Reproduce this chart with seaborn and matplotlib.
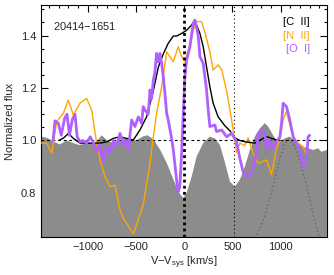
import matplotlib
matplotlib.use("Agg")
import matplotlib.pyplot as plt
import seaborn as sns
from matplotlib.ticker import MultipleLocator, FormatStrFormatter

# atmospheric transmission (grey)
trans_v = [-1485, -1420, -1350, -1290, -1220, -1150, -1090, -1000, -920, -856,
           -800, -740, -670, -600, -500, -430, -380, -320, -250, -180,
           -110, -60, -10, 25, 77, 128, 197, 266, 318, 370,
           420, 474, 525, 577, 629, 681, 733, 784, 836, 871,
           922, 974, 1043, 1095, 1165, 1233, 1285, 1337, 1389, 1424, 1480]
trans_f = [1.015, 1.01, 0.995, 0.985, 1.0, 0.99, 0.983, 0.99, 0.99, 1.02,
           1.0, 0.99, 1.0, 1.008, 1.0, 1.015, 1.02, 1.005, 0.965, 0.913,
           0.85, 0.805, 0.78, 0.80, 0.862, 0.938, 0.99, 1.015, 1.008, 0.983,
           0.92, 0.843, 0.824, 0.85, 0.90, 0.964, 1.015, 1.046, 1.066, 1.053,
           1.02, 0.99, 1.008, 1.015, 0.995, 0.976, 0.97, 0.964, 0.97, 0.957, 0.964]

# [C II]
cii_v = [-1300, -1250, -1200, -1150, -1080, -975, -873, -800, -735, -666,
         -600, -527, -459, -390, -320, -268, -217, -166, -113, -79,
         -27, 25, 77, 100, 128, 163, 197, 232, 266, 300,
         352, 422, 474, 525, 577, 629, 733, 819, 854, 906, 957, 990]
cii_f = [1.0, 1.01, 1.027, 1.008, 0.99, 0.99, 0.99, 0.995, 1.008, 1.014,
         1.008, 1.002, 1.04, 1.09, 1.19, 1.28, 1.33, 1.37, 1.398, 1.398,
         1.408, 1.42, 1.44, 1.453, 1.44, 1.408, 1.357, 1.28, 1.205, 1.142,
         1.09, 1.056, 1.037, 1.01, 1.0, 0.995, 0.99, 1.008, 1.015, 1.008, 1.002, 1.0]

# [N II]
nii_v = [-1485, -1426, -1374, -1322, -1253, -1202, -1150, -1081, -1012, -960,
         -908, -873, -822, -770, -718, -666, -632, -527, -425, -355,
         -320, -286, -234, -182, -113, -62, -27, 7, 59, 93,
         128, 180, 214, 266, 300, 352, 388, 440, 491, 525,
         543, 577, 629, 663, 716, 768, 854, 906, 957, 992,
         1026, 1061, 1095, 1130, 1165, 1233, 1268]
nii_f = [0.99, 0.99, 0.951, 1.072, 1.104, 1.154, 1.097, 1.142, 1.16, 1.116,
         0.99, 0.926, 0.862, 0.824, 0.83, 0.735, 0.704, 0.644, 0.754, 0.913,
         1.015, 1.104, 1.205, 1.338, 1.30, 1.357, 1.32, 1.30, 1.364, 1.42,
         1.453, 1.453, 1.414, 1.338, 1.268, 1.288, 1.27, 1.19, 1.08, 1.0,
         0.955, 0.99, 0.98, 1.01, 0.95, 0.913, 0.926, 0.87, 0.97, 1.002,
         1.078, 1.11, 1.06, 1.015, 0.995, 0.976, 0.945]

# [O I]
oi_v = [-1360, -1340, -1305, -1275, -1240, -1215, -1190, -1160, -1133, -1110,
        -1080, -1050, -1012, -975, -940, -908, -880, -840, -810, -770,
        -735, -700, -666, -630, -600, -580, -545, -511, -476, -442,
        -425, -407, -373, -355, -338, -320, -304, -286, -270, -252,
        -234, -217, -200, -182, -166, -131, -113, -79, -62, -45,
        -27, -10, 7, 25, 59, 93, 111, 145, 163, 197,
        232, 249, 266, 318, 335, 388, 440, 491, 543, 577,
        611, 647, 681, 716, 750, 768, 802, 836, 854, 888,
        922, 957, 992, 1009, 1026, 1061, 1095, 1130, 1165, 1199,
        1233, 1268, 1285, 1302]
oi_f = [1.0, 1.075, 1.065, 1.02, 1.085, 1.10, 1.02, 1.08, 1.10, 1.014,
        0.995, 1.0, 0.99, 1.014, 0.99, 0.957, 0.983, 0.92, 0.976, 0.951,
        1.0, 0.976, 1.027, 0.985, 1.0, 0.964, 1.078, 1.053, 1.09, 1.065,
        1.129, 1.116, 1.10, 1.192, 1.16, 1.23, 1.26, 1.332, 1.30, 1.332,
        1.294, 1.243, 1.18, 1.104, 1.078, 1.008, 0.964, 0.85, 0.805, 0.824,
        0.951, 1.10, 1.243, 1.307, 1.357, 1.446, 1.459, 1.40, 1.32, 1.294,
        1.192, 1.116, 1.053, 1.059, 1.034, 1.04, 1.014, 1.027, 0.995, 0.932,
        0.88, 0.862, 0.868, 0.90, 0.951, 1.027, 1.04, 1.027, 0.964, 1.002,
        0.97, 0.995, 1.014, 1.065, 1.142, 1.129, 1.078, 1.014, 0.99, 0.964,
        0.90, 0.92, 1.014, 1.02]

# dotted profile on the right
prof_v = [733, 802, 854, 906, 957, 1009, 1043, 1078, 1113, 1165, 1216, 1268, 1320, 1372, 1406]
prof_f = [0.628, 0.678, 0.735, 0.805, 0.881, 0.951, 0.99, 1.005, 0.995, 0.964, 0.90, 0.83, 0.748, 0.666, 0.628]

labels = ['[C  II]', '[N  II]', '[O  I]']
colors = ['black', '#ffa500', '#b060ff']

sns.set_style("ticks")
plt.rcParams['font.family'] = ['Liberation Sans', 'DejaVu Sans']
plt.rcParams['mathtext.fontset'] = 'custom'
plt.rcParams['mathtext.rm'] = 'Liberation Sans'

fig = plt.figure(figsize=(3.34, 2.75), dpi=100)
ax = fig.add_axes([0.1228, 0.139, 0.856, 0.8425])

ax.fill_between(trans_v, 0, trans_f, color='#8c8c8c', lw=0, zorder=1)

ax.axhline(1.0, color='black', lw=0.8, ls=(0, (2.5, 2.5)), zorder=2)
ax.axvline(0, color='black', lw=2.0, ls=(0, (1, 1.2)), zorder=5)
ax.axvline(520, color='black', lw=0.8, ls=(0, (1, 2.5)), zorder=2)

sns.lineplot(x=prof_v, y=prof_f, ax=ax, color='#555555', lw=0.8,
             ls=(0, (1, 2.5)), sort=False, estimator=None, zorder=2)
sns.lineplot(x=nii_v, y=nii_f, ax=ax, color=colors[1], lw=1.0,
             sort=False, estimator=None, zorder=3)
sns.lineplot(x=cii_v, y=cii_f, ax=ax, color=colors[0], lw=1.0,
             sort=False, estimator=None, zorder=3)
sns.lineplot(x=oi_v, y=oi_f, ax=ax, color=colors[2], lw=2.0,
             sort=False, estimator=None, zorder=4)

ax.set_xlim(-1485, 1480)
ax.set_ylim(0.633, 1.516)
ax.xaxis.set_major_locator(MultipleLocator(500))
ax.xaxis.set_minor_locator(MultipleLocator(100))
ax.yaxis.set_major_locator(MultipleLocator(0.2))
ax.yaxis.set_minor_locator(MultipleLocator(0.05))
ax.yaxis.set_major_formatter(FormatStrFormatter('%.1f'))
ax.tick_params(which='both', direction='in', top=True, right=True,
               labelsize=8, width=0.8, color='black')
ax.tick_params(which='major', length=5)
ax.tick_params(which='minor', length=2.5)
for s in ax.spines.values():
    s.set_linewidth(0.8)
    s.set_color('black')

ax.set_xlabel('V$-$V$_{\\rm sys}$ [km/s]', fontsize=8, labelpad=2)
ax.set_ylabel('Normalized flux', fontsize=8, labelpad=4)

ax.text(0.042, 0.91, '20414$-$1651', transform=ax.transAxes, fontsize=8,
        va='center', ha='left')
for lab, col, yy in zip(labels, colors, [0.927, 0.868, 0.81]):
    ax.text(0.94, yy, lab, transform=ax.transAxes, fontsize=8, color=col,
            va='center', ha='right')

fig.savefig('out.png', dpi=100)
